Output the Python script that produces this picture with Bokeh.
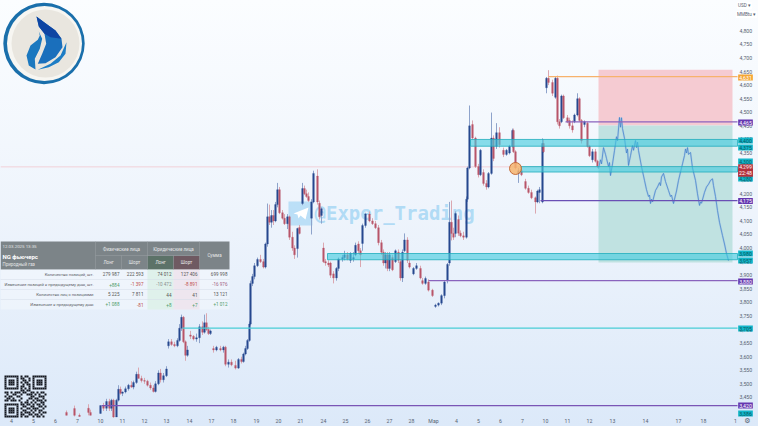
from bokeh.plotting import figure
from bokeh.models import Range1d, FixedTicker, NumeralTickFormatter, ColumnDataSource, Label
from bokeh.core.properties import value
from bokeh.embed import file_html
from bokeh.resources import INLINE

FONT = "Roboto"

# candle data: time index, open, high, low, close
bar_t = [66,74,79,88,90,100,103,106,109,111,
113,116,118,120,122,125,128,131,133,136,
138,141,144,147,150,153,155,158,160,163,
166,168,171,174,177,179,181,183,185,187,
190,193,196,199,202,204,206,208,210,213,
216,220,223,225,228,231,235,238,241,243,
245,247,249,250,252,254,257,260,263,265,
267,269,271,273,275,277,279,282,284,287,
289,292,294,297,299,302,304,306,308,311,
313,317,319,321,323,325,328,330,333,336,
338,342,344,347,350,353,355,358,360,362,
365,369,372,375,378,381,383,385,387,389,
392,395,398,400,402,404,407,409,413,416,
420,422,425,428,432,435,438,441,444,447,
449,451,453,455,458,460,463,466,467,469,
472,475,478,480,483,486,488,491,493,496,
499,503,506,509,512,513,515,518,521,525,
528,531,535,537,539,542,543,546,548,552,
555,557,559,561,563,567,569,572,574,577,
579,581,584,587,589,592,595,597]
bar_open = [3395,3409,3384,3410,3395,3391,3420,3410,3435,3410,
3440,3378,3440,3480,3465,3470,3482,3495,3488,3505,
3535,3520,3512,3510,3495,3485,3472,3500,3540,3515,
3530,3640,3655,3645,3640,3660,3705,3745,3655,3605,
3680,3675,3665,3670,3710,3690,3725,3700,3685,3630,
3625,3630,3625,3635,3572,3580,3568,3558,3590,3582,
3610,3630,3660,3720,3870,3895,3935,3958,3950,3930,
4015,4115,4095,4120,4100,4160,4215,4130,4110,4090,
4115,4040,4000,3998,4076,4164,4219,4200,4190,4110,
4170,4265,4165,4120,4000,3950,3945,3945,3905,3890,
3925,3960,3965,3975,3955,3960,3975,4015,3990,4017,
4083,4125,4100,4090,4075,4020,3985,3945,3975,3925,
3965,3950,3985,3950,3890,3990,4030,3945,3905,3925,
3925,3880,3870,3875,3845,3785,3790,3797,3825,3880,
3945,4095,4054,4054,4105,4055,4045,4040,4180,4295,
4455,4405,4300,4270,4278,4238,4225,4275,4405,4375,
4425,4360,4345,4350,4375,4433,4355,4275,4285,4245,
4220,4205,4185,4170,4205,4170,4385,4590,4625,4610,
4555,4625,4465,4465,4560,4480,4470,4450,4465,4490,
4550,4470,4455,4460,4375,4325,4355,4320]
bar_high = [3402,3420,3391,3425,3405,3420,3430,3445,3445,3445,
3445,3445,3495,3490,3472,3490,3500,3510,3512,3545,
3560,3530,3522,3515,3505,3495,3510,3550,3555,3540,
3565,3665,3665,3655,3668,3720,3755,3750,3660,3640,
3695,3680,3685,3720,3730,3755,3760,3710,3700,3640,
3640,3640,3640,3640,3590,3590,3585,3595,3600,3615,
3640,3665,3730,3880,3905,3945,3965,3975,3960,4020,
4164,4160,4140,4140,4170,4240,4225,4140,4125,4125,
4120,4060,4010,4075,4085,4240,4230,4215,4205,4180,
4285,4290,4175,4150,4020,3960,3955,3950,3915,3930,
3965,3975,3990,3985,3985,3985,4020,4025,4000,4090,
4130,4135,4110,4100,4085,4030,3995,3985,3985,3985,
3975,3995,3995,3960,3995,4054,4040,3955,3930,3945,
3935,3890,3895,3885,3850,3795,3800,3830,3880,3945,
4170,4175,4075,4135,4120,4065,4060,4190,4300,4525,
4470,4410,4310,4365,4290,4250,4280,4499,4415,4460,
4445,4370,4365,4380,4440,4440,4360,4295,4295,4255,
4230,4215,4190,4215,4225,4404,4400,4630,4655,4620,
4630,4635,4475,4565,4565,4490,4480,4470,4495,4570,
4555,4475,4470,4465,4380,4365,4365,4325]
bar_low = [3384,3380,3380,3384,3384,3391,3400,3400,3400,3400,
3375,3378,3435,3460,3455,3465,3475,3485,3480,3500,
3525,3505,3500,3490,3478,3468,3468,3495,3505,3505,
3525,3630,3640,3635,3635,3655,3695,3650,3585,3600,
3665,3660,3655,3650,3680,3685,3695,3680,3680,3615,
3620,3620,3615,3565,3560,3565,3553,3555,3575,3578,
3605,3625,3655,3715,3860,3885,3930,3945,3925,3925,
4005,4085,4075,4085,4095,4150,4125,4105,4085,4070,
4030,3990,3960,3965,4050,4158,4195,4185,4170,4050,
4165,4160,4105,4090,3945,3935,3930,3890,3870,3880,
3915,3950,3955,3955,3945,3950,3970,3980,3930,3990,
4075,4095,4085,4070,4010,3975,3935,3925,3915,3915,
3915,3945,3945,3880,3875,3985,3945,3925,3900,3920,
3885,3865,3865,3840,3820,3780,3785,3790,3815,3870,
3935,4028,4030,4040,4045,4040,4030,4035,4170,4290,
4400,4295,4260,4265,4230,4215,4220,4270,4320,4365,
4370,4335,4340,4345,4370,4350,4290,4240,4265,4215,
4200,4180,4127,4165,4165,4165,4350,4570,4600,4560,
4550,4455,4440,4460,4475,4460,4440,4425,4460,4485,
4465,4385,4445,4370,4335,4315,4315,4295]
bar_close = [3384,3384,3380,3395,3384,3420,3410,3435,3410,3440,
3378,3440,3480,3465,3470,3482,3495,3488,3505,3535,
3520,3512,3510,3495,3485,3472,3500,3540,3515,3530,
3555,3655,3645,3640,3660,3705,3745,3655,3605,3625,
3675,3665,3670,3710,3690,3725,3700,3685,3695,3625,
3635,3625,3635,3572,3580,3570,3558,3590,3582,3610,
3630,3660,3720,3870,3895,3935,3958,3950,3930,4015,
4115,4095,4120,4100,4160,4215,4130,4110,4090,4115,
4040,4000,3975,4072,4054,4219,4200,4190,4175,4170,
4275,4170,4115,4145,3950,3945,3938,3900,3890,3925,
3960,3965,3975,3960,3980,3965,4010,3990,3975,4083,
4125,4100,4090,4075,4020,3985,3945,3975,3925,3975,
3920,3990,3955,3890,3985,4030,3955,3930,3925,3935,
3890,3870,3888,3845,3825,3790,3797,3825,3875,3940,
4095,4054,4040,4127,4055,4045,4040,4180,4295,4450,
4405,4300,4270,4360,4238,4225,4275,4405,4330,4425,
4380,4345,4360,4375,4433,4355,4295,4285,4270,4220,
4205,4185,4170,4210,4215,4385,4355,4625,4610,4570,
4625,4465,4450,4560,4480,4465,4450,4435,4490,4550,
4470,4395,4465,4375,4340,4355,4320,4300]

# projected path
proj_t = [598,600,601,603,605,606,608,609,610,612,614,616,617,619,620,621,622,624,626,627,
628,630,632,633,635,636,637,638,641,644,646,648,649,650,651,652,655,657,659,660,
661,663,665,668,670,671,673,674,676,678,680,682,684,685,686,687,688,690,692,695,
697,699,700,701,704,706,708,710,712,713,715,717,719,722,724,726,728]
proj_price = [4293,4325,4310,4370,4345,4330,4300,4315,4267,4310,4359,4410,4395,4481,4445,4480,4440,4404,4350,4365,
4304,4340,4378,4360,4396,4370,4390,4359,4300,4249,4215,4190,4195,4164,4180,4170,4212,4225,4241,4230,
4262,4275,4245,4212,4190,4195,4164,4180,4210,4249,4280,4310,4341,4365,4350,4370,4345,4352,4295,4249,
4200,4157,4170,4165,4205,4225,4235,4249,4255,4230,4190,4138,4095,4046,4015,3980,3954]

# horizontal levels
level_start = [548, 565, 540, 428, 182, 101]
level_price = [4631, 4465, 4175, 3880, 3705, 3420]
level_color = ["#f7b26c", "#8a63bd", "#6a4fb5", "#8a63bd", "#49cdd6", "#7a55b5"]

# zones
zone_start = [470, 520, 327]
zone_top = [4400, 4300, 3980]
zone_bottom = [4375, 4280, 3957]

last_price = 4299
pos_start, pos_end = 598, 732
pos_top, pos_entry, pos_bottom = 4657, 4451, 3947

# axes
price_ticks = [3450,3500,3550,3600,3650,3700,3750,3800,3850,3900,3950,4000,4050,4100,4150,4200,4250,4300,4350,4400,4450,4500,4550,4600,4650,4700,4750,4800]
day_ticks = [11,33,55,77,100,122,144,166,189,211,233,256,278,300,323,345,367,389,411,433,456,478,500,522,545,567,589,612,645,678,703,735]
day_labels = ["4","5","6","7","10","11","12","13","14","17","18","19","20","21","24","25","26","27","28","Мар","4","5","6","7","10","11","12","13","14","17","18","1"]

# price tags
tag_text = ["4,631","4,465","4,400","4,375","4,300","4,280","4,175","3,980","3,957","3,880","3,705","3,420","3,386"]
tag_row = [77,122,140,147,161,178,200.5,253,260,281,328,405,413]
tag_color = ["#f5a634","#6537b0","#12b5c9","#12b5c9","#12b5c9","#12b5c9","#6537b0","#12b5c9","#12b5c9","#6537b0","#12b5c9","#6537b0","#12b5c9"]

# table
tbl_rows = ["Количество позиций, шт.","Изменение позиций к предыдущему дню, шт.","Количество лиц с позициями","Изменение к предыдущему дню"]
tbl_values = [["279 987","222 593","74 012","127 406","699 998"],
              ["+884","-1 397","-10 472","-8 891","-16 976"],
              ["5 225","7 811","44","41","13 121"],
              ["+1 088","-81","+8","+7","+1 012"]]
tbl_colors = [["#555555"]*5,
              ["#4f9d6a","#c0504d","#8a8f8f","#c0504d","#a0607f"],
              ["#555555"]*5,
              ["#4f9d6a","#c0504d","#4f9d6a","#4f9d6a","#4f9d6a"]]

qr = ["111111101011001111111","100000101100101000001","101110100110101011101","101110101011001011101",
      "101110100101101011101","100000101100101000001","111111101010101111111","000000001101100000000",
      "110101110110011010110","010011001001110101001","101100110000011001110","011010001000110110010",
      "110111010001001011101","000000001011010100110","111111101101101011010","100000100110011001101",
      "101110101001101110010","101110100110010101100","101110101011101001011","100000101100110110100",
      "111111101011001011010"]

p = figure(width=758, height=426, output_backend="svg", toolbar_location=None,
           x_range=Range1d(0, 758), y_range=Range1d(3343.0, 4911.6),
           min_border_left=0, min_border_top=0, min_border_right=0, min_border_bottom=0,
           x_axis_location="below", y_axis_location="right")
p.extra_x_ranges = {"px": Range1d(0, 758)}
p.extra_y_ranges = {"py": Range1d(426, 0)}
p.grid.visible = False
p.outline_line_color = None
p.background_fill_alpha = 0
p.border_fill_alpha = 0
p.styles = {"background": "linear-gradient(180deg,#fbfdff 0%,#eef4fc 50%,#dce9f9 100%)"}

ya = p.yaxis[0]
ya.ticker = FixedTicker(ticks=price_ticks)
ya.formatter = NumeralTickFormatter(format="0,0")
ya.axis_line_color = None
ya.major_tick_line_color = None
ya.minor_tick_line_color = None
ya.major_tick_out = 0
ya.major_tick_in = 0
ya.minor_tick_out = 0
ya.minor_tick_in = 0
ya.major_label_text_font = FONT
ya.major_label_text_font_size = "5.2px"
ya.major_label_text_color = "#566270"
ya.major_label_standoff = -19
xa = p.xaxis[0]
xa.ticker = FixedTicker(ticks=day_ticks)
xa.major_label_overrides = dict(zip(day_ticks, day_labels))
xa.axis_line_color = None
xa.major_tick_line_color = None
xa.minor_tick_line_color = None
xa.major_tick_out = 0
xa.major_tick_in = 0
xa.minor_tick_out = 0
xa.minor_tick_in = 0
xa.major_label_text_font = FONT
xa.major_label_text_font_size = "5.2px"
xa.major_label_text_color = "#566270"
xa.major_label_standoff = -9

PX = dict(x_range_name="px", y_range_name="py")

# position box
p.quad(left=[pos_start], right=[pos_end], top=[pos_top], bottom=[pos_entry], fill_color="#f5cbd2", line_color=None)
p.quad(left=[pos_start], right=[pos_end], top=[pos_entry], bottom=[pos_bottom], fill_color="#c0e2e1", line_color=None)
p.segment(x0=[0], x1=[737], y0=[last_price], y1=[last_price], line_color="#f2c6cf", line_width=0.8)

# watermark
p.quad(left=[288], right=[312], top=[201], bottom=[225], fill_color="#a9d8f5", fill_alpha=0.75, line_color=None, **PX)
p.patch(x=[293, 308, 305, 300, 298, 297], y=[213, 207, 219, 215, 218, 214], fill_color="white", line_color=None, **PX)
p.text(x=[314], y=[212.5], text=["@Exper_Trading"], text_font=value("DejaVu Sans Mono"), text_font_style="bold",
       text_font_size=value("19px"), text_color="#a9d8f5", text_alpha=0.9, text_baseline="middle", **PX)

# candles
up_flag = [c >= o for o, c in zip(bar_open, bar_close)]
bar_src = ColumnDataSource(dict(
    t=bar_t, o=bar_open, h=bar_high, l=bar_low, c=bar_close,
    wick=["#8ea3cb" if u else "#dba7b0" for u in up_flag],
    body=["#27488f" if u else "#b9566a" for u in up_flag]))
p.segment(x0="t", x1="t", y0="l", y1="h", line_color="wick", line_width=1, source=bar_src)
p.vbar(x="t", width=1.7, bottom="o", top="c", fill_color="body", line_color="body", line_width=0.3, source=bar_src)

# projection
p.line(proj_t, proj_price, line_color="#a8c8e4", line_width=2.0, line_alpha=0.75)
p.line(proj_t, proj_price, line_color="#3d7fc8", line_width=0.7)

# zones
p.quad(left=zone_start, right=[737]*3, top=zone_top, bottom=zone_bottom, fill_color="#43cbdf", fill_alpha=0.62,
       line_color="#1fadbd", line_width=0.8)

# levels
p.segment(x0=level_start, x1=[737]*6, y0=level_price, y1=level_price, line_color=level_color, line_width=1.2)

# marker
p.circle(x=[515], y=[4293], radius=6, fill_color="#f6b46e", fill_alpha=0.85, line_color="#c0622d", line_width=0.9)

# logo
p.circle(x=[43.5], y=[43], radius=40.7, fill_color="#1a6fab", line_color=None, **PX)
p.circle(x=[44], y=[43], radius=37.5, fill_color="#f7f6f2", line_color=None, **PX)
p.circle(x=[45], y=[43], radius=34, fill_color="#e9e6df", line_color=None, **PX)
p.patch(x=[38.3,41.7,39.3,34.3,35,28.3,26,30,37.3,39.3], y=[31,38.3,48.3,58.3,69,65,55,45,39.3,35],
        fill_color="#1b78bf", line_color=None, **PX)
p.patch(x=[36,45,55,61,62,55,45,37.3,41.7,45.7,44,38.3], y=[16,22.7,30,38.3,46.7,56.7,62.7,63.3,53.3,43.3,33.3,26],
        fill_color="#1a6fbc", line_color=None, **PX)
p.patch(x=[36,45,55,61,50,44,38.3], y=[16,22.7,30,38.3,36.7,33.3,26], fill_color="#0e45a3", line_color=None, **PX)
p.patch(x=[66,65,58.3,48.3,37.3,50,60], y=[41.7,53.3,61.7,66.7,69.3,63.3,55], fill_color="#1d7dc5", line_color=None, **PX)

# qr
qx, qy, qs = [], [], 2.0
for r, row in enumerate(qr):
    for c, ch in enumerate(row):
        if ch == "1":
            qx.append(4 + c * qs)
            qy.append(375 + r * qs)
p.quad(left=qx, right=[v + qs for v in qx], top=qy, bottom=[v + qs for v in qy], fill_color="#151820", line_color=None, **PX)

# table
def tcell(l, r, t, b, col, alpha=1.0):
    p.quad(left=[l], right=[r], top=[t], bottom=[b], fill_color=col, fill_alpha=alpha, line_color=None, **PX)
def ttext(x, y, s, col="#555555", size="4.5px", align="center", style="normal"):
    p.text(x=[x], y=[y], text=[s], text_color=col, text_font=value(FONT), text_font_size=value(size),
           text_align=align, text_baseline="middle", text_font_style=style, **PX)
tcell(0, 229, 241, 269, "#7c8488")
tcell(147, 173, 255.5, 269, "#5c7268")
tcell(173, 199, 255.5, 269, "#6f5a62")
tcell(0, 229, 269, 309, "#ffffff", 0.3)
tcell(147, 173, 269, 309, "#d8f0e4", 0.7)
tcell(173, 199, 269, 309, "#eedfea", 0.7)
for yy in [279, 289, 299]:
    p.segment(x0=[0], x1=[229], y0=[yy], y1=[yy], line_color="#d5dde8", line_width=0.5, **PX)
for xx in [95, 147, 199]:
    p.segment(x0=[xx], x1=[xx], y0=[241], y1=[269], line_color="#9aa1a5", line_width=0.5, **PX)
for xx in [121, 173]:
    p.segment(x0=[xx], x1=[xx], y0=[255], y1=[269], line_color="#9aa1a5", line_width=0.5, **PX)
p.segment(x0=[95], x1=[199], y0=[255], y1=[255], line_color="#9aa1a5", line_width=0.5, **PX)
ttext(2, 246, "12.03.2025 13:35", "#e3e5e6", "4.4px", "left")
ttext(2, 255.5, "NG фьючерс", "#ffffff", "6px", "left", "bold")
ttext(2, 263.5, "Природный газ", "#e3e5e6", "4.5px", "left")
ttext(121, 249, "Физические лица", "#e6e8e9")
ttext(173, 249, "Юридические лица", "#e6e8e9")
ttext(214, 255, "Сумма", "#e6e8e9")
for xx, s in zip([108, 134, 160, 186], ["Лонг", "Шорт", "Лонг", "Шорт"]):
    ttext(xx, 262, s, "#e6e8e9")
col_right = [119, 143, 171, 197, 227]
for i, lab in enumerate(tbl_rows):
    yy = 274 + 10 * i
    ttext(93, yy, lab, "#5a6066", "4.15px", "right")
    for xx, s, cc in zip(col_right, tbl_values[i], tbl_colors[i]):
        ttext(xx, yy, s, cc, "4.6px", "right")

# price tags (drawn over the axis)
def tag(x, y, s, col, bg, size="5.2px", pad=1):
    p.add_layout(Label(x=x, y=y, text=s, text_color=col, text_font=FONT, text_font_size=size,
                       text_align="center", text_baseline="middle", background_fill_color=bg,
                       padding=pad, x_range_name="px", y_range_name="py"))
for s, yy, cc in zip(tag_text, tag_row, tag_color):
    tag(745, yy, s, "#ffffff" if cc != "#12b5c9" else "#0a5560", cc)
tag(745, 166.8, "4,299", "#ffffff", "#b3303c", pad=1)
tag(745, 172.3, "22:48", "#ffffff", "#b3303c", pad=1)
tag(746, 14, "MMBtu ▾", "#566270", "#ffffff", "4.6px", 1)
tag(744, 5, "USD ▾", "#566270", "#ffffff", "4.6px", 1)
p.add_layout(Label(x=747, y=420, text="⚙", text_color="#566270", text_font="DejaVu Sans", text_font_size="7px",
                   text_align="center", text_baseline="middle", x_range_name="px", y_range_name="py"))

open("out.html", "w").write(file_html(p, INLINE))
